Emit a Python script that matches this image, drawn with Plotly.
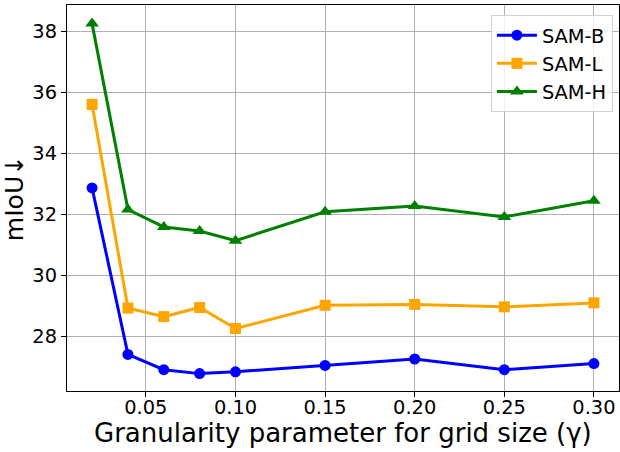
import plotly.graph_objects as go

gamma = [0.02, 0.04, 0.06, 0.08, 0.10, 0.15, 0.20, 0.25, 0.30]
sam_b = [32.86, 27.40, 26.90, 26.77, 26.83, 27.04, 27.25, 26.90, 27.10]
sam_l = [35.60, 28.92, 28.64, 28.94, 28.25, 29.01, 29.04, 28.96, 29.09]
sam_h = [38.25, 32.15, 31.58, 31.45, 31.13, 32.08, 32.27, 31.91, 32.44]

x_ticks = [0.05, 0.10, 0.15, 0.20, 0.25, 0.30]
x_tick_labels = ["0.05", "0.10", "0.15", "0.20", "0.25", "0.30"]
y_ticks = [28, 30, 32, 34, 36, 38]
x_title = "Granularity parameter for grid size (γ)"
y_title = "mIoU↓"

series = [
    ("SAM-B", sam_b, "blue", "circle", 11),
    ("SAM-L", sam_l, "orange", "square", 11),
    ("SAM-H", sam_h, "green", "triangle-up", 12),
]

fig = go.Figure()
for name, vals, color, sym, size in series:
    fig.add_trace(go.Scatter(
        x=gamma, y=vals, name=name, mode="lines+markers",
        line=dict(color=color, width=3),
        marker=dict(symbol=sym, size=size, color=color),
    ))

font = "DejaVu Sans"
fig.update_layout(
    width=620, height=452,
    margin=dict(l=67, r=1, t=5, b=61, autoexpand=False),
    paper_bgcolor="white", plot_bgcolor="white",
    font=dict(family=font, color="black"),
    legend=dict(
        x=0.989, y=0.974, xanchor="right", yanchor="top",
        bgcolor="rgba(255,255,255,0.8)", bordercolor="#d0d0d0", borderwidth=1,
        font=dict(size=19.4, family=font),
        itemwidth=40,
    ),
    showlegend=True,
    annotations=[dict(
        text=x_title, xref="paper", yref="paper", x=0.5, y=-0.108,
        xanchor="center", yanchor="middle", showarrow=False,
        font=dict(size=26, family=font, color="black"),
    )],
)
fig.update_xaxes(
    range=[0.006, 0.314],
    tickvals=x_ticks, ticktext=x_tick_labels,
    tickfont=dict(size=19.4, family=font),
    showgrid=True, gridcolor="#b0b0b0", gridwidth=1,
    showline=True, linecolor="black", linewidth=1.2, mirror=True,
    ticks="outside", ticklen=5, tickcolor="black",
    ticklabelstandoff=-6,
    zeroline=False, automargin=False,
)
fig.update_yaxes(
    range=[26.2, 38.86],
    tickvals=y_ticks,
    tickfont=dict(size=19.4, family=font),
    showgrid=True, gridcolor="#b0b0b0", gridwidth=1,
    showline=True, linecolor="black", linewidth=1.2, mirror=True,
    ticks="outside", ticklen=5, tickcolor="black",
    zeroline=False, automargin=False,
    title=dict(text=y_title, font=dict(size=25, family=font), standoff=4),
)

fig.write_html(
    "out.html",
    config={"displayModeBar": False},
    post_script="document.body.style.margin='0';document.body.style.overflow='hidden';",
)
